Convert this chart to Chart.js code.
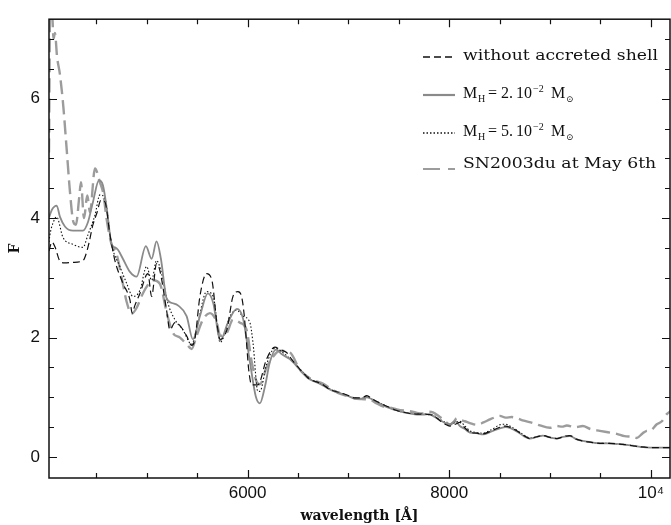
<!DOCTYPE html>
<html lang="en">
  <head>
    <meta charset="UTF-8" />
    <title>Synthetic spectra vs SN2003du</title>
    <script src="https://cdn.jsdelivr.net/npm/chart.js"></script>
    <style>
      body { margin: 0; background: #fff; }
      #chartContainer { width: 671px; height: 525px; }
    </style>
  </head>
  <body>
    <div id="chartContainer">
      <canvas id="myChart" width="671" height="525"></canvas>
    </div>
    <script>
      // spectra: wavelength in Angstrom, flux F
      const tailWave = [6585, 6618, 6700, 6747, 6830, 6915, 7000, 7064, 7130, 7183, 7230, 7342, 7410, 7481, 7550, 7610, 7680, 7739, 7800, 7838, 7908, 7960, 8006, 8060, 8105, 8155, 8205, 8270, 8334, 8420, 8502, 8560, 8601, 8671, 8740, 8800, 8870, 8928, 9000, 9067, 9130, 9196, 9260, 9325, 9400, 9494, 9580, 9662, 9740, 9821, 9900, 9990, 10100, 10198];

      const noShellWave = [4030, 4059, 4089, 4139, 4188, 4268, 4367, 4416, 4466, 4506, 4545, 4585, 4634, 4684, 4763, 4833, 4855, 4882, 4932, 5011, 5048, 5097, 5130, 5196, 5229, 5279, 5329, 5395, 5445, 5477, 5527, 5593, 5646, 5695, 5728, 5794, 5855, 5904, 5940, 5965, 5990, 6010, 6040, 6102, 6188, 6271, 6320, 6387, 6436, 6519].concat(tailWave);
      const noShellFlux = [3.45, 3.60, 3.52, 3.28, 3.25, 3.26, 3.29, 3.51, 3.89, 4.09, 4.30, 4.27, 3.73, 3.29, 2.91, 2.63, 2.41, 2.54, 2.74, 3.07, 2.69, 3.24, 3.12, 2.46, 2.13, 2.25, 2.20, 2.03, 1.87, 1.97, 2.69, 3.07, 2.96, 2.25, 1.97, 2.13, 2.69, 2.77, 2.69, 2.40, 1.90, 1.48, 1.21, 1.21, 1.64, 1.84, 1.80, 1.75, 1.64, 1.47,
        1.35, 1.30, 1.25, 1.21, 1.12, 1.08, 1.03, 0.99, 0.99, 1.03, 0.98, 0.88, 0.83, 0.78, 0.75, 0.73, 0.72, 0.72, 0.71, 0.70, 0.61, 0.55, 0.52, 0.55, 0.58, 0.49, 0.42, 0.40, 0.39, 0.44, 0.50, 0.52, 0.50, 0.44, 0.36, 0.31, 0.34, 0.36, 0.33, 0.31, 0.34, 0.36, 0.30, 0.27, 0.25, 0.23, 0.23, 0.22, 0.21, 0.19, 0.17, 0.16, 0.16, 0.16];

      const h2Wave = [4030, 4059, 4106, 4139, 4188, 4268, 4367, 4416, 4466, 4525, 4565, 4605, 4651, 4684, 4714, 4763, 4833, 4899, 4991, 5048, 5097, 5140, 5196, 5249, 5309, 5395, 5458, 5527, 5606, 5659, 5728, 5805, 5894, 5953, 6023, 6082, 6122, 6172, 6221, 6281, 6340, 6419, 6519].concat(tailWave);
      const h2Flux = [4.01, 4.14, 4.21, 4.02, 3.86, 3.79, 3.79, 3.93, 4.27, 4.63, 4.55, 4.14, 3.56, 3.51, 3.47, 3.32, 3.10, 3.02, 3.53, 3.32, 3.61, 3.32, 2.66, 2.58, 2.54, 2.36, 1.97, 2.36, 2.74, 2.58, 1.95, 2.25, 2.48, 2.33, 1.59, 1.01, 0.90, 1.18, 1.59, 1.80, 1.72, 1.64, 1.46,
        1.34, 1.30, 1.24, 1.20, 1.12, 1.07, 1.02, 0.98, 0.98, 1.00, 0.97, 0.87, 0.82, 0.78, 0.75, 0.73, 0.71, 0.71, 0.72, 0.69, 0.62, 0.57, 0.55, 0.60, 0.52, 0.47, 0.41, 0.40, 0.38, 0.43, 0.48, 0.50, 0.49, 0.43, 0.35, 0.31, 0.34, 0.36, 0.33, 0.31, 0.34, 0.35, 0.30, 0.27, 0.25, 0.23, 0.23, 0.22, 0.21, 0.19, 0.17, 0.16, 0.16, 0.16];

      const h5Wave = [4030, 4039, 4070, 4106, 4168, 4268, 4367, 4416, 4486, 4535, 4585, 4651, 4733, 4800, 4862, 4932, 4998, 5048, 5097, 5140, 5209, 5279, 5358, 5445, 5507, 5593, 5659, 5728, 5826, 5891, 5953, 6023, 6053, 6102, 6122, 6188, 6271, 6340, 6436, 6519].concat(tailWave);
      const h5Flux = [3.60, 3.72, 3.92, 4.02, 3.68, 3.56, 3.51, 3.72, 4.05, 4.39, 4.33, 3.56, 3.19, 2.91, 2.69, 2.79, 3.19, 2.96, 3.29, 3.12, 2.58, 2.30, 2.13, 1.89, 2.25, 2.77, 2.69, 1.92, 2.36, 2.46, 2.36, 2.25, 1.92, 1.10, 1.10, 1.55, 1.82, 1.76, 1.62, 1.47,
        1.36, 1.31, 1.24, 1.21, 1.13, 1.08, 1.02, 0.99, 0.98, 1.02, 0.97, 0.88, 0.82, 0.78, 0.75, 0.74, 0.72, 0.72, 0.71, 0.70, 0.63, 0.58, 0.55, 0.58, 0.60, 0.52, 0.44, 0.41, 0.40, 0.46, 0.54, 0.55, 0.52, 0.45, 0.37, 0.32, 0.34, 0.36, 0.33, 0.31, 0.34, 0.36, 0.30, 0.27, 0.25, 0.23, 0.23, 0.22, 0.21, 0.19, 0.17, 0.16, 0.16, 0.16];

      const obsWave = [4030, 4042, 4060, 4075, 4089, 4110, 4139, 4172, 4205, 4238, 4271, 4297, 4330, 4347, 4377, 4410, 4436, 4486, 4535, 4570, 4600, 4651, 4700, 4763, 4800, 4850, 4900, 4950, 4998, 5061, 5130, 5200, 5259, 5329, 5395, 5445, 5494, 5557, 5626, 5695, 5728, 5794, 5855, 5924, 5990, 6040, 6090, 6122, 6188, 6271, 6320, 6420, 6519,
        6585, 6618, 6680, 6747, 6830, 6915, 7000, 7064, 7130, 7213, 7280, 7342, 7410, 7481, 7550, 7610, 7680, 7739, 7800, 7838, 7908, 7960, 8006, 8040, 8076, 8120, 8155, 8205, 8274, 8340, 8403, 8460, 8502, 8560, 8620, 8671, 8740, 8829, 8900, 8998, 9067, 9120, 9166, 9250, 9325, 9400, 9494, 9560, 9662, 9740, 9821, 9860, 9920, 9959, 10000, 10059, 10110, 10158, 10198];
      const obsFlux = [5.10, 7.60, 7.50, 7.00, 7.10, 6.70, 6.40, 5.87, 5.16, 4.44, 3.94, 3.89, 4.35, 4.60, 4.00, 4.38, 4.10, 4.83, 4.60, 4.40, 4.00, 3.56, 3.40, 2.90, 2.60, 2.40, 2.50, 2.70, 2.85, 2.96, 2.90, 2.40, 2.08, 2.00, 1.89, 1.81, 2.03, 2.30, 2.41, 2.25, 2.03, 2.08, 2.30, 2.25, 2.13, 1.60, 1.26, 1.22, 1.50, 1.72, 1.78, 1.75, 1.46,
        1.36, 1.32, 1.27, 1.23, 1.14, 1.06, 1.02, 0.98, 0.97, 0.96, 0.90, 0.85, 0.83, 0.80, 0.78, 0.77, 0.74, 0.73, 0.76, 0.75, 0.67, 0.60, 0.54, 0.58, 0.65, 0.62, 0.60, 0.57, 0.54, 0.58, 0.63, 0.67, 0.69, 0.66, 0.67, 0.65, 0.61, 0.57, 0.53, 0.49, 0.52, 0.51, 0.53, 0.50, 0.52, 0.47, 0.44, 0.42, 0.39, 0.35, 0.34, 0.32, 0.40, 0.44, 0.45, 0.55, 0.60, 0.72, 0.77];

      const xTicks = [6000, 8000, 10000];
      const yTicks = [0, 2, 4, 6];

      function toPoints(xs, ys) {
        return xs.map(function (x, i) { return { x: x, y: ys[i] }; });
      }

      const seriesStyle = [
        { label: "without accreted shell", color: "#111", width: 1.2, dash: [7, 4] },
        { label: "M_H = 2. 10^-2", color: "#8a8a8a", width: 1.8, dash: [] },
        { label: "M_H = 5. 10^-2", color: "#111", width: 1.1, dash: [1.5, 2] },
        { label: "SN2003du at May 6th", color: "#9c9c9c", width: 2.4, dash: [14, 6] },
      ];
      const seriesData = [
        toPoints(noShellWave, noShellFlux),
        toPoints(h2Wave, h2Flux),
        toPoints(h5Wave, h5Flux),
        toPoints(obsWave, obsFlux),
      ];

      // one legend label piece, optionally stretched wide like the plotting-package font of the original
      function drawStretched(ctx, text, x, y, size, stretch, family) {
        ctx.save();
        ctx.translate(x, y);
        ctx.scale(stretch, 1);
        ctx.font = size + "px " + (family || '"DejaVu Serif"');
        ctx.fillText(text, 0, 0);
        ctx.restore();
      }

      const frameAndLegend = {
        id: "frameAndLegend",
        afterDraw(chart) {
          const ctx = chart.ctx;
          const a = chart.chartArea;
          const xs = chart.scales.x;
          const ys = chart.scales.y;
          ctx.save();
          ctx.strokeStyle = "#111";
          ctx.lineWidth = 1.5;
          ctx.setLineDash([]);
          ctx.strokeRect(a.left, a.top, a.right - a.left, a.bottom - a.top);

          ctx.lineWidth = 1.2;
          ctx.beginPath();
          for (let v = 4500; v <= 10000; v += 500) {
            const px = Math.round(xs.getPixelForValue(v)) + 0.5;
            const len = xTicks.includes(v) ? 8 : 5;
            ctx.moveTo(px, a.bottom); ctx.lineTo(px, a.bottom - len);
            ctx.moveTo(px, a.top); ctx.lineTo(px, a.top + len);
          }
          for (let v = 0; v <= 7; v += 0.5) {
            const py = Math.round(ys.getPixelForValue(v)) + 0.5;
            const len = yTicks.includes(v) ? 8 : 5;
            ctx.moveTo(a.left, py); ctx.lineTo(a.left + len, py);
            ctx.moveTo(a.right, py); ctx.lineTo(a.right - len, py);
          }
          ctx.stroke();

          // legend
          const rows = [57, 95, 133, 169];
          rows.forEach(function (ry, i) {
            const s = seriesStyle[i];
            ctx.beginPath();
            ctx.strokeStyle = s.color;
            ctx.lineWidth = i === 3 ? 2 : s.width + 0.4;
            ctx.setLineDash(i === 3 ? [17, 8] : s.dash);
            ctx.moveTo(423, ry);
            ctx.lineTo(455, ry);
            ctx.stroke();
          });
          ctx.setLineDash([]);
          ctx.fillStyle = "#111";
          ctx.textBaseline = "alphabetic";
          ctx.font = '15px "DejaVu Serif"';
          const stretch = 195 / ctx.measureText("without accreted shell").width;
          drawStretched(ctx, "without accreted shell", 463, 60, 15, stretch);
          const lib = '"Liberation Serif"';
          ["2.", "5."].forEach(function (num, k) {
            const by = [98, 136][k];
            drawStretched(ctx, "M", 463, by, 16, 1, lib);
            drawStretched(ctx, "H", 478, by + 4, 10, 1, lib);
            drawStretched(ctx, "=", 488, by, 16, 1, lib);
            drawStretched(ctx, num, 501, by, 16, 1, lib);
            drawStretched(ctx, "10", 516, by, 16, 1, lib);
            drawStretched(ctx, "−2", 533, by - 6, 10, 1, lib);
            drawStretched(ctx, "M", 551, by, 16, 1, lib);
            drawStretched(ctx, "⊙", 566, by + 4, 9, 1);
          });
          drawStretched(ctx, "SN2003du at May 6th", 463, 168, 15, stretch);
          ctx.restore();
        },
      };

      document.addEventListener("DOMContentLoaded", function () {
        const ctx = document.getElementById("myChart").getContext("2d");
        Chart.defaults.color = "#111";

        const datasets = seriesData.map(function (pts, i) {
          const s = seriesStyle[i];
          return {
            label: s.label,
            data: pts,
            borderColor: s.color,
            borderWidth: s.width,
            borderDash: s.dash,
            pointRadius: 0,
            fill: false,
            cubicInterpolationMode: "monotone",
          };
        });

        new Chart(ctx, {
          type: "line",
          data: { datasets: datasets },
          options: {
            responsive: false,
            animation: false,
            layout: { padding: { top: 11, right: 1, left: 0, bottom: 0 } },
            scales: {
              x: {
                type: "linear",
                min: 4030,
                max: 10190,
                grid: { display: false, drawTicks: false },
                border: { display: false },
                afterBuildTicks: function (s) {
                  s.ticks = xTicks.map(function (v) { return { value: v }; });
                },
                ticks: {
                  autoSkip: false,
                  maxRotation: 0,
                  padding: 5,
                  font: { family: '"Liberation Sans"', size: 17 },
                  callback: function (v) { return v === 10000 ? "10⁴" : String(v); },
                },
                title: {
                  display: true,
                  text: "wavelength [Å]",
                  font: { family: '"DejaVu Serif"', weight: "bold", size: 14 },
                  padding: { top: 0, bottom: 0 },
                },
                afterFit: function (s) { s.height = 47; },
              },
              y: {
                min: -0.35,
                max: 7.33,
                grid: { display: false, drawTicks: false },
                border: { display: false },
                afterBuildTicks: function (s) {
                  s.ticks = yTicks.map(function (v) { return { value: v }; });
                },
                ticks: {
                  padding: 9,
                  font: { family: '"Liberation Sans"', size: 17 },
                },
                title: {
                  display: true,
                  text: "F",
                  font: { family: '"DejaVu Serif"', weight: "bold", size: 14 },
                  padding: { top: 7, bottom: 0 },
                },
                afterFit: function (s) { s.width = 49; },
              },
            },
            plugins: {
              legend: { display: false },
              tooltip: { enabled: false },
            },
          },
          plugins: [frameAndLegend],
        });
      });
    </script>
  </body>
</html>
